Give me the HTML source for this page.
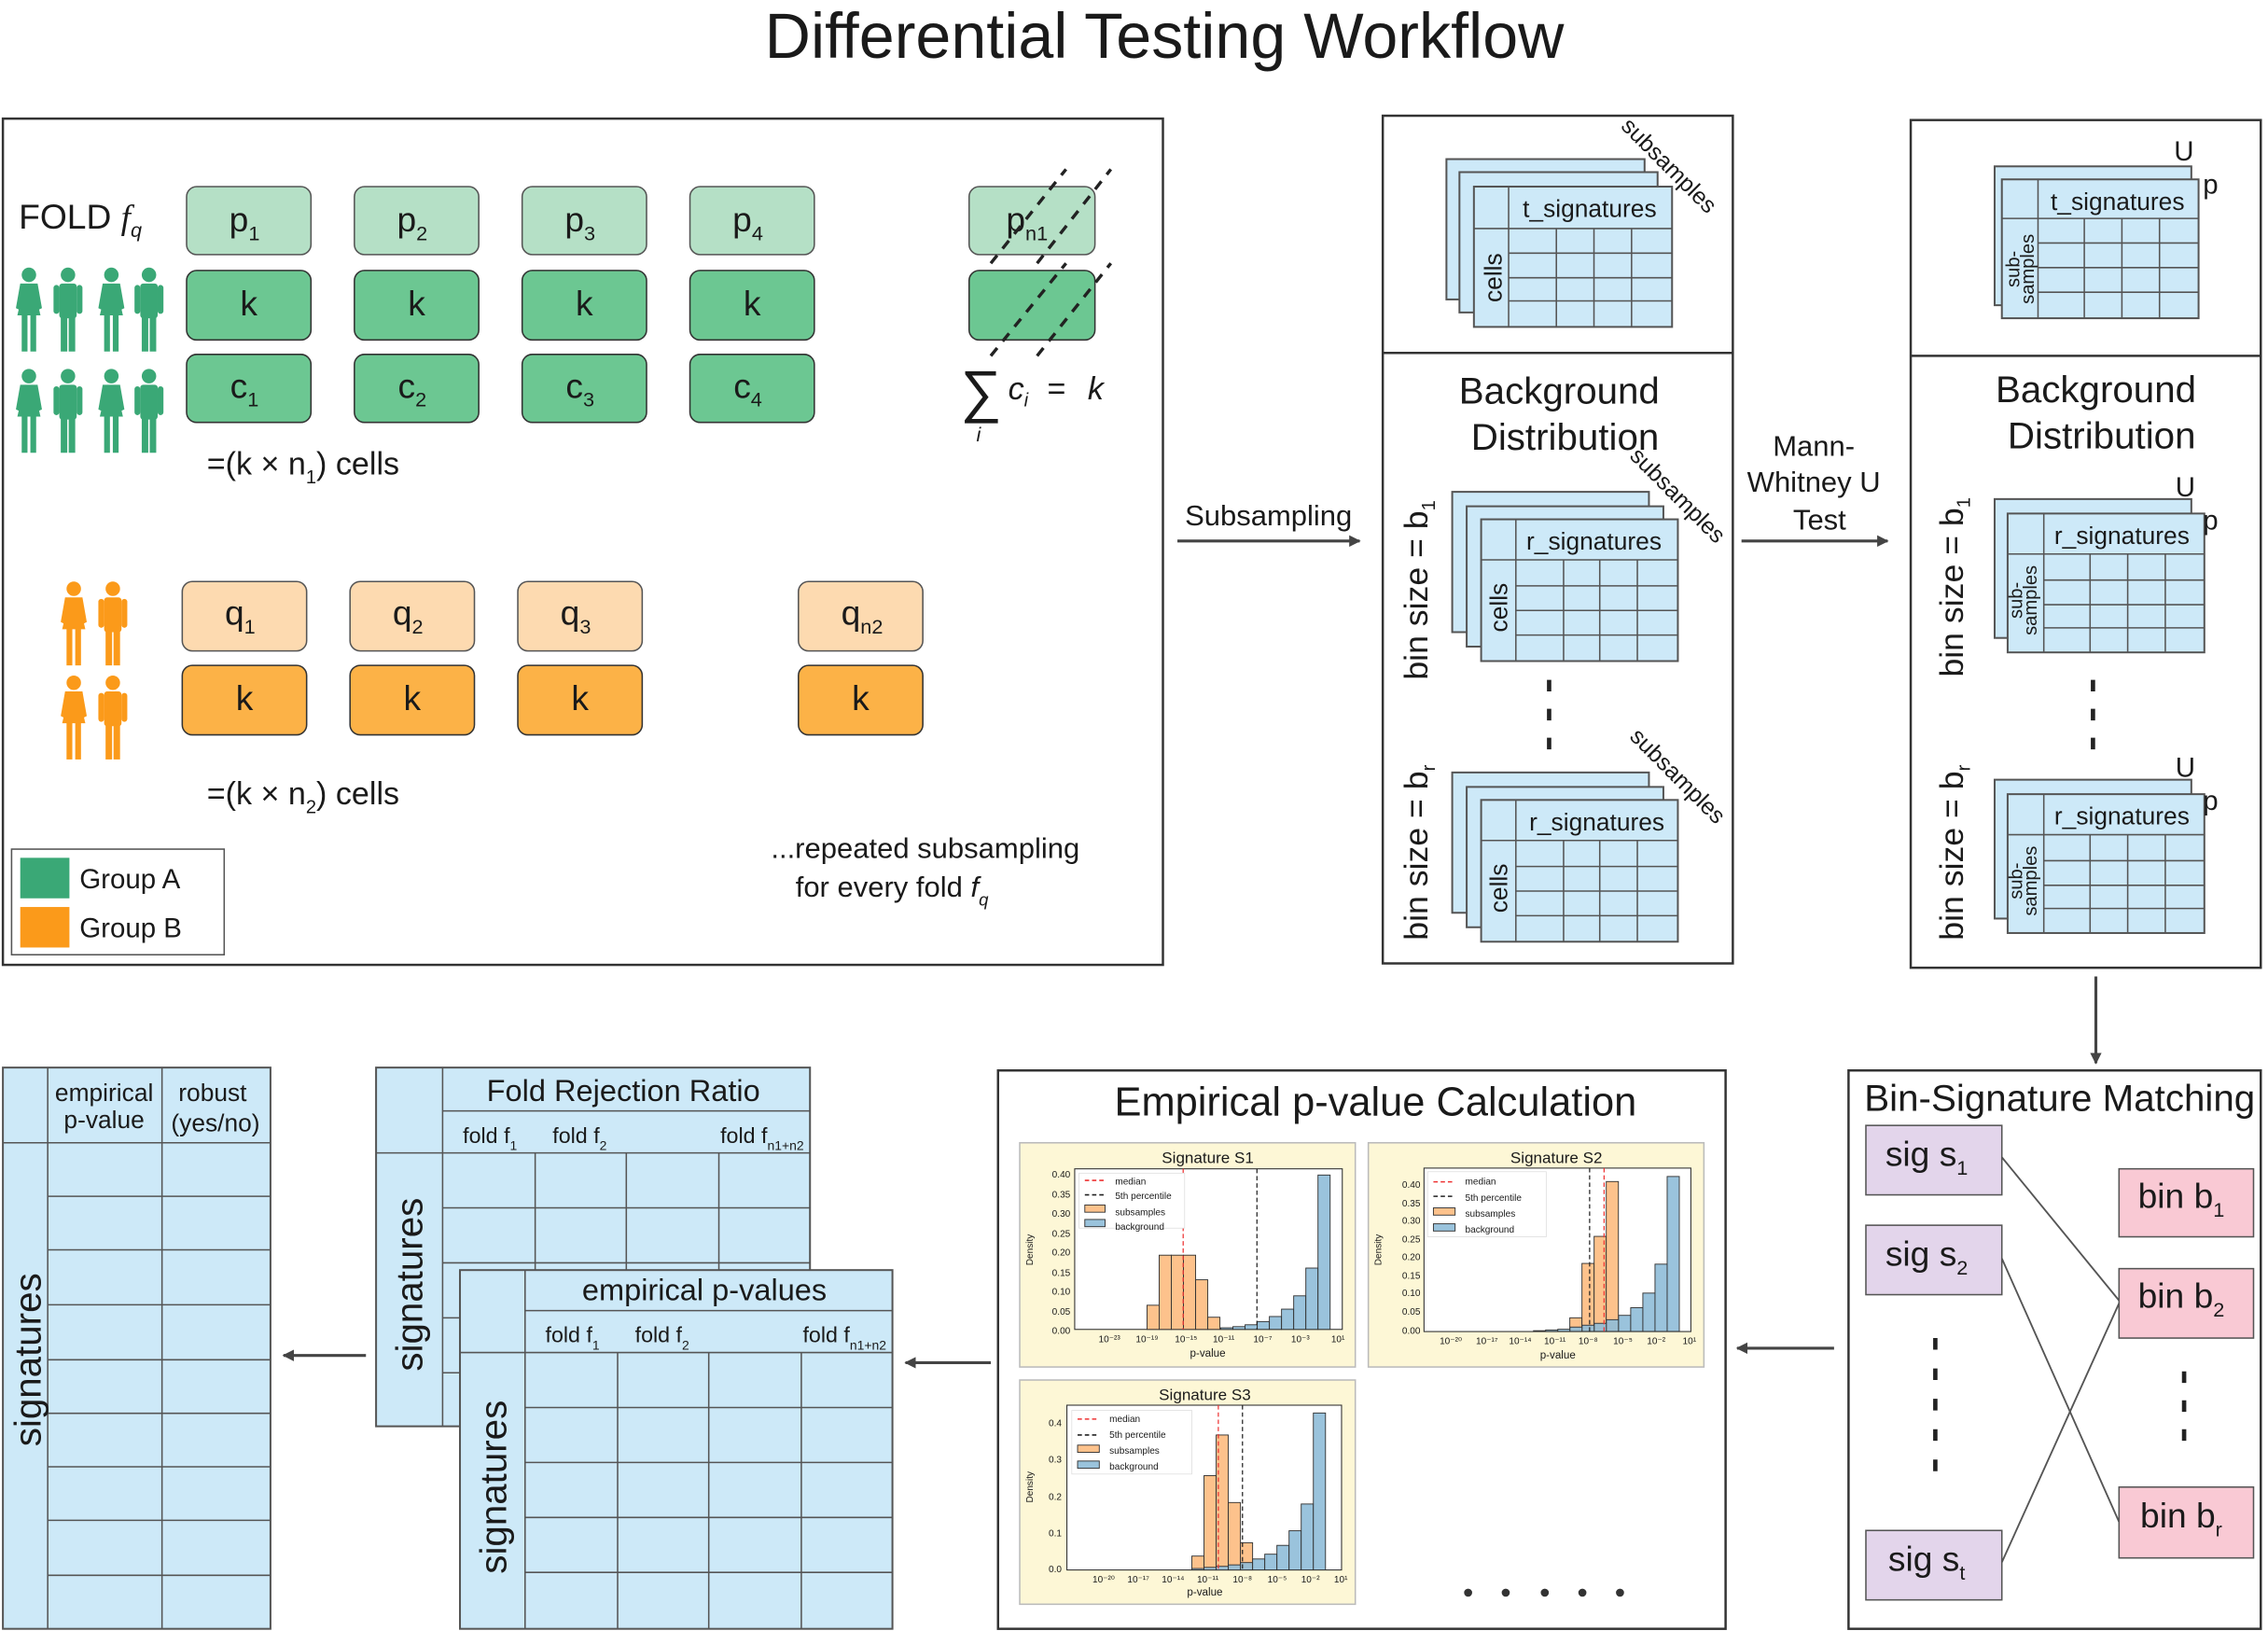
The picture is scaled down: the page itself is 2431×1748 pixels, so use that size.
<!DOCTYPE html>
<html><head><meta charset="utf-8"><style>
html,body{margin:0;padding:0;background:#fff;}
svg{display:block;}
text{font-family:"Liberation Sans",Arial,sans-serif;fill:#1a1a1a;}
.tb{fill:#cde9f8;stroke:#555;stroke-width:1.3;}
.gl{stroke:#555;stroke-width:1;fill:none;}
.pn{fill:none;stroke:#333;stroke-width:1.6;}
.ob{fill:#fdc28c;stroke:#333;stroke-width:.6;}
.bb{fill:#8fbcd8;stroke:#333;stroke-width:.6;fill-opacity:.9;}
.lt{font-size:6.5px;}
.ax{font-size:6.5px;}
</style></head><body>
<svg width="2431" height="1748" viewBox="0 0 1568 1127.5" preserveAspectRatio="none" xmlns="http://www.w3.org/2000/svg">
<defs>
<marker id="ar" viewBox="0 0 10 10" refX="9" refY="5" markerWidth="8" markerHeight="8" orient="auto-start-reverse" markerUnits="userSpaceOnUse"><path d="M0,0 L10,5 L0,10 z" fill="#444"/></marker>
<g id="pw"><circle cx="0" cy="5" r="5"/><path d="M-6,11 H6 L9,28 L7,29 L5,20 L8,33 H-8 L-5,20 L-7,29 L-9,28 Z"/><rect x="-5" y="32" width="4" height="26"/><rect x="1" y="32" width="4" height="26"/></g>
<g id="pm"><circle cx="0" cy="5" r="5"/><rect x="-6" y="11" width="12" height="24" rx="2"/><rect x="-10" y="12" width="4" height="20" rx="2"/><rect x="6" y="12" width="4" height="20" rx="2"/><rect x="-5" y="33" width="4.5" height="25"/><rect x="0.5" y="33" width="4.5" height="25"/></g>
</defs>

<text x="805" y="40" font-size="44" text-anchor="middle">Differential Testing Workflow</text>

<!-- Panel 1 -->
<rect x="2" y="82" width="802" height="585" class="pn"/>
<text x="13" y="158" font-size="24">FOLD <tspan font-style="italic" font-family="Liberation Serif">f</tspan><tspan font-size="14" dy="6" font-style="italic">q</tspan></text>
<g fill="#3aa876"><use href="#pw" x="20" y="185"/><use href="#pm" x="47" y="185"/><use href="#pw" x="77" y="185"/><use href="#pm" x="103" y="185"/>
<use href="#pw" x="20" y="255"/><use href="#pm" x="47" y="255"/><use href="#pw" x="77" y="255"/><use href="#pm" x="103" y="255"/></g>
<g stroke="#555" stroke-width="1">
<rect x="129" y="129" width="86" height="47" rx="7" fill="#b5e0c6"/><rect x="245" y="129" width="86" height="47" rx="7" fill="#b5e0c6"/><rect x="361" y="129" width="86" height="47" rx="7" fill="#b5e0c6"/><rect x="477" y="129" width="86" height="47" rx="7" fill="#b5e0c6"/>
<rect x="129" y="187" width="86" height="48" rx="7" fill="#6cc792" stroke="#333"/><rect x="245" y="187" width="86" height="48" rx="7" fill="#6cc792" stroke="#333"/><rect x="361" y="187" width="86" height="48" rx="7" fill="#6cc792" stroke="#333"/><rect x="477" y="187" width="86" height="48" rx="7" fill="#6cc792" stroke="#333"/>
<rect x="129" y="245" width="86" height="47" rx="7" fill="#6cc792" stroke="#333"/><rect x="245" y="245" width="86" height="47" rx="7" fill="#6cc792" stroke="#333"/><rect x="361" y="245" width="86" height="47" rx="7" fill="#6cc792" stroke="#333"/><rect x="477" y="245" width="86" height="47" rx="7" fill="#6cc792" stroke="#333"/>
<rect x="670" y="129" width="87" height="47" rx="7" fill="#b5e0c6"/>
<rect x="670" y="187" width="87" height="48" rx="7" fill="#6cc792" stroke="#333"/>
</g>
<g font-size="24" text-anchor="middle">
<text x="169" y="160">p<tspan font-size="14" dy="6">1</tspan></text><text x="285" y="160">p<tspan font-size="14" dy="6">2</tspan></text><text x="401" y="160">p<tspan font-size="14" dy="6">3</tspan></text><text x="517" y="160">p<tspan font-size="14" dy="6">4</tspan></text>
<text x="172" y="218">k</text><text x="288" y="218">k</text><text x="404" y="218">k</text><text x="520" y="218">k</text>
<text x="169" y="275">c<tspan font-size="14" dy="6">1</tspan></text><text x="285" y="275">c<tspan font-size="14" dy="6">2</tspan></text><text x="401" y="275">c<tspan font-size="14" dy="6">3</tspan></text><text x="517" y="275">c<tspan font-size="14" dy="6">4</tspan></text>
<text x="710" y="160">p<tspan font-size="14" dy="6">n1</tspan></text>
</g>
<g stroke="#222" stroke-width="2.2" stroke-dasharray="7,6">
<line x1="685" y1="182" x2="737" y2="117"/><line x1="717" y1="182" x2="768" y2="117"/>
<line x1="685" y1="246" x2="737" y2="182"/><line x1="717" y1="246" x2="768" y2="182"/>
</g>
<text x="664" y="284" font-size="40" font-family="Liberation Serif">∑</text>
<text x="697" y="276" font-size="22" font-family="Liberation Serif" font-style="italic">c<tspan font-size="13" dy="5">i</tspan></text>
<text x="724" y="276" font-size="22" font-family="Liberation Serif">=</text>
<text x="752" y="276" font-size="22" font-family="Liberation Serif" font-style="italic">k</text>
<text x="675" y="305" font-size="14" font-family="Liberation Serif" font-style="italic">i</text>
<text x="143" y="328" font-size="22">=(k × n<tspan font-size="13" dy="6">1</tspan><tspan dy="-6">) cells</tspan></text>

<g fill="#fb9a1a"><use href="#pw" x="51" y="402"/><use href="#pm" x="78" y="402"/><use href="#pw" x="51" y="467"/><use href="#pm" x="78" y="467"/></g>
<g stroke="#555" stroke-width="1">
<rect x="126" y="402" width="86" height="48" rx="7" fill="#fddab0"/><rect x="242" y="402" width="86" height="48" rx="7" fill="#fddab0"/><rect x="358" y="402" width="86" height="48" rx="7" fill="#fddab0"/><rect x="552" y="402" width="86" height="48" rx="7" fill="#fddab0"/>
<rect x="126" y="460" width="86" height="48" rx="7" fill="#fcb247" stroke="#333"/><rect x="242" y="460" width="86" height="48" rx="7" fill="#fcb247" stroke="#333"/><rect x="358" y="460" width="86" height="48" rx="7" fill="#fcb247" stroke="#333"/><rect x="552" y="460" width="86" height="48" rx="7" fill="#fcb247" stroke="#333"/>
</g>
<g font-size="24" text-anchor="middle">
<text x="166" y="432">q<tspan font-size="14" dy="6">1</tspan></text><text x="282" y="432">q<tspan font-size="14" dy="6">2</tspan></text><text x="398" y="432">q<tspan font-size="14" dy="6">3</tspan></text><text x="596" y="432">q<tspan font-size="14" dy="6">n2</tspan></text>
<text x="169" y="491">k</text><text x="285" y="491">k</text><text x="401" y="491">k</text><text x="595" y="491">k</text>
</g>
<text x="143" y="556" font-size="22">=(k × n<tspan font-size="13" dy="6">2</tspan><tspan dy="-6">) cells</tspan></text>
<rect x="8" y="587" width="147" height="73" fill="#fff" stroke="#555" stroke-width="1"/>
<rect x="14" y="593" width="34" height="28" fill="#3aa876"/><rect x="14" y="627" width="34" height="28" fill="#fb9a1a"/>
<text x="55" y="614" font-size="19">Group A</text><text x="55" y="648" font-size="19">Group B</text>
<text x="533" y="593" font-size="20">...repeated subsampling</text>
<text x="550" y="620" font-size="20">for every fold <tspan font-style="italic">f</tspan><tspan font-size="12" dy="6" font-style="italic">q</tspan></text>

<!-- Subsampling arrow -->
<text x="877" y="363" font-size="20" text-anchor="middle">Subsampling</text>
<line x1="814" y1="374" x2="940" y2="374" stroke="#444" stroke-width="2" marker-end="url(#ar)"/>

<!-- Panel 2 -->
<rect x="956" y="80" width="242" height="586" class="pn"/>
<line x1="956" y1="244" x2="1198" y2="244" stroke="#333" stroke-width="1.6"/>
<rect x="1000" y="110" width="137" height="97" class="tb"/><rect x="1009" y="119" width="137" height="97" class="tb"/>
<rect x="1019" y="129" width="137" height="97" class="tb"/>
<path class="gl" d="M1019,158H1156M1043,129V226M1076,158V226M1102,158V226M1128,158V226M1043,175H1156M1043,192H1156M1043,208H1156"/>
<text x="1099" y="150" font-size="17" text-anchor="middle">t_signatures</text>
<text transform="translate(1038,192) rotate(-90)" font-size="17" text-anchor="middle">cells</text>
<text transform="translate(1120,88) rotate(45)" font-size="16">subsamples</text>
<text x="1078" y="279" font-size="26" text-anchor="middle">Background</text>
<text x="1082" y="311" font-size="26" text-anchor="middle">Distribution</text>

<rect x="1004" y="340" width="136" height="97" class="tb"/><rect x="1014" y="350" width="136" height="97" class="tb"/>
<rect x="1024" y="359" width="136" height="98" class="tb"/>
<path class="gl" d="M1024,387H1160M1048,359V457M1081,387V457M1106,387V457M1132,387V457M1048,405H1160M1048,422H1160M1048,439H1160"/>
<text x="1102" y="380" font-size="17" text-anchor="middle">r_signatures</text>
<text transform="translate(1042,420) rotate(-90)" font-size="17" text-anchor="middle">cells</text>
<text transform="translate(1126,316) rotate(45)" font-size="16">subsamples</text>
<text transform="translate(987,470) rotate(-90)" font-size="23">bin size = b<tspan font-size="13" dy="5">1</tspan></text>
<line x1="1071" y1="470" x2="1071" y2="522" stroke="#222" stroke-width="3" stroke-dasharray="8,12"/>

<rect x="1004" y="534" width="136" height="97" class="tb"/><rect x="1014" y="544" width="136" height="97" class="tb"/>
<rect x="1024" y="553" width="136" height="98" class="tb"/>
<path class="gl" d="M1024,581H1160M1048,553V651M1081,581V651M1106,581V651M1132,581V651M1048,599H1160M1048,616H1160M1048,633H1160"/>
<text x="1104" y="574" font-size="17" text-anchor="middle">r_signatures</text>
<text transform="translate(1042,614) rotate(-90)" font-size="17" text-anchor="middle">cells</text>
<text transform="translate(1126,510) rotate(45)" font-size="16">subsamples</text>
<text transform="translate(987,650) rotate(-90)" font-size="23">bin size = b<tspan font-size="13" dy="5">r</tspan></text>

<!-- MW arrow -->
<text x="1254" y="315" font-size="20" text-anchor="middle">Mann-</text>
<text x="1254" y="340" font-size="20" text-anchor="middle">Whitney U</text>
<text x="1258" y="366" font-size="20" text-anchor="middle">Test</text>
<line x1="1204" y1="374" x2="1305" y2="374" stroke="#444" stroke-width="2" marker-end="url(#ar)"/>

<!-- Panel 3 -->
<rect x="1321" y="83" width="242" height="586" class="pn"/>
<line x1="1321" y1="246" x2="1563" y2="246" stroke="#333" stroke-width="1.6"/>
<rect x="1379" y="115" width="136" height="96" class="tb"/>
<rect x="1384" y="124" width="136" height="96" class="tb"/>
<path class="gl" d="M1384,151H1520M1409,124V220M1441,151V220M1467,151V220M1493,151V220M1409,168H1520M1409,185H1520M1409,202H1520"/>
<text x="1464" y="145" font-size="17" text-anchor="middle">t_signatures</text>
<text transform="translate(1396,186) rotate(-90)" font-size="13" text-anchor="middle">sub-</text>
<text transform="translate(1406,186) rotate(-90)" font-size="13" text-anchor="middle">samples</text>
<text x="1503" y="111" font-size="19">U</text><text x="1523" y="134" font-size="19">p</text>
<text x="1449" y="278" font-size="26" text-anchor="middle">Background</text>
<text x="1453" y="310" font-size="26" text-anchor="middle">Distribution</text>

<rect x="1379" y="345" width="136" height="96" class="tb"/>
<rect x="1388" y="355" width="136" height="96" class="tb"/>
<path class="gl" d="M1388,383H1524M1413,355V451M1445,383V451M1471,383V451M1497,383V451M1413,401H1524M1413,418H1524M1413,434H1524"/>
<text x="1467" y="376" font-size="17" text-anchor="middle">r_signatures</text>
<text transform="translate(1398,415) rotate(-90)" font-size="13" text-anchor="middle">sub-</text>
<text transform="translate(1408,415) rotate(-90)" font-size="13" text-anchor="middle">samples</text>
<text x="1504" y="343" font-size="19">U</text><text x="1523" y="366" font-size="19">p</text>
<text transform="translate(1357,468) rotate(-90)" font-size="23">bin size = b<tspan font-size="13" dy="5">1</tspan></text>
<line x1="1447" y1="470" x2="1447" y2="522" stroke="#222" stroke-width="3" stroke-dasharray="8,12"/>

<rect x="1379" y="539" width="136" height="96" class="tb"/>
<rect x="1388" y="549" width="136" height="96" class="tb"/>
<path class="gl" d="M1388,577H1524M1413,549V645M1445,577V645M1471,577V645M1497,577V645M1413,595H1524M1413,612H1524M1413,628H1524"/>
<text x="1467" y="570" font-size="17" text-anchor="middle">r_signatures</text>
<text transform="translate(1398,609) rotate(-90)" font-size="13" text-anchor="middle">sub-</text>
<text transform="translate(1408,609) rotate(-90)" font-size="13" text-anchor="middle">samples</text>
<text x="1504" y="537" font-size="19">U</text><text x="1523" y="560" font-size="19">p</text>
<text transform="translate(1357,650) rotate(-90)" font-size="23">bin size = b<tspan font-size="13" dy="5">r</tspan></text>

<line x1="1449" y1="675" x2="1449" y2="735" stroke="#444" stroke-width="2" marker-end="url(#ar)"/>

<!-- Bin-signature matching -->
<rect x="1278" y="740" width="285" height="386" class="pn"/>
<text x="1424" y="768" font-size="26" text-anchor="middle">Bin-Signature Matching</text>
<g stroke="#555" stroke-width="1">
<rect x="1290" y="778" width="94" height="48" fill="#e3d5eb"/><rect x="1290" y="847" width="94" height="48" fill="#e3d5eb"/><rect x="1290" y="1058" width="94" height="48" fill="#e3d5eb"/>
<rect x="1465" y="808" width="93" height="47" fill="#f9c9d4"/><rect x="1465" y="877" width="93" height="48" fill="#f9c9d4"/><rect x="1465" y="1028" width="93" height="49" fill="#f9c9d4"/>
</g>
<g stroke="#555" stroke-width="1.2"><line x1="1384" y1="800" x2="1465" y2="899"/><line x1="1384" y1="870" x2="1465" y2="1052"/><line x1="1384" y1="1080" x2="1465" y2="901"/></g>
<g font-size="24" text-anchor="middle">
<text x="1332" y="806">sig s<tspan font-size="14" dy="6">1</tspan></text><text x="1332" y="875">sig s<tspan font-size="14" dy="6">2</tspan></text><text x="1332" y="1086">sig s<tspan font-size="14" dy="6">t</tspan></text>
<text x="1508" y="835">bin b<tspan font-size="14" dy="6">1</tspan></text><text x="1508" y="904">bin b<tspan font-size="14" dy="6">2</tspan></text><text x="1508" y="1056">bin b<tspan font-size="14" dy="6">r</tspan></text>
</g>
<line x1="1338" y1="925" x2="1338" y2="1022" stroke="#222" stroke-width="3" stroke-dasharray="8,13"/>
<line x1="1510" y1="948" x2="1510" y2="1002" stroke="#222" stroke-width="3" stroke-dasharray="8,12"/>

<line x1="1268" y1="932" x2="1201" y2="932" stroke="#444" stroke-width="2" marker-end="url(#ar)"/>

<!-- Empirical panel -->
<rect x="690" y="740" width="503" height="386" class="pn"/>
<text x="951" y="771" font-size="28" text-anchor="middle">Empirical p-value Calculation</text>

<!-- plot 1 -->
<rect x="705" y="790" width="232" height="155" fill="#fdf7d6" stroke="#bbb" stroke-width="1"/>
<text x="835" y="804" font-size="11" text-anchor="middle">Signature S1</text>
<rect x="743" y="808" width="185" height="111" fill="#fff" stroke="#333" stroke-width=".7"/>
<g class="ob"><rect x="793" y="902.3" width="8.4" height="16.7"/><rect x="801.4" y="867.7" width="8.4" height="51.3"/><rect x="809.8" y="867.7" width="8.4" height="51.3"/><rect x="818.2" y="867.7" width="8.4" height="51.3"/><rect x="826.6" y="884.7" width="8.4" height="34.3"/><rect x="835" y="910.6" width="8.4" height="8.4"/></g>
<g class="bb"><rect x="844" y="917.9" width="8.4" height="1.1"/><rect x="852.4" y="917.1" width="8.4" height="1.9"/><rect x="860.8" y="915.8" width="8.4" height="3.2"/><rect x="869.2" y="913.6" width="8.4" height="5.4"/><rect x="877.6" y="910.1" width="8.4" height="8.9"/><rect x="886" y="905" width="8.4" height="14"/><rect x="894.4" y="895.8" width="8.4" height="23.2"/><rect x="902.8" y="876.6" width="8.4" height="42.4"/><rect x="911.2" y="812.3" width="8.4" height="106.7"/></g>
<line x1="818" y1="808" x2="818" y2="919" stroke="#e33" stroke-width=".8" stroke-dasharray="3,2"/>
<line x1="869" y1="808" x2="869" y2="919" stroke="#222" stroke-width=".8" stroke-dasharray="3,2"/>
<rect x="746" y="811" width="73" height="38" fill="#fff" stroke="#ddd" stroke-width=".5"/>
<line x1="750" y1="816" x2="764" y2="816" stroke="#e33" stroke-dasharray="3,2"/><line x1="750" y1="826" x2="764" y2="826" stroke="#222" stroke-dasharray="3,2"/>
<rect x="750" y="833" width="14" height="5" class="ob"/><rect x="750" y="843" width="14" height="5" class="bb"/>
<text x="771" y="819" class="lt">median</text><text x="771" y="829" class="lt">5th percentile</text><text x="771" y="840" class="lt">subsamples</text><text x="771" y="850" class="lt">background</text>
<g class="ax" text-anchor="end"><text x="740" y="814">0.40</text><text x="740" y="828">0.35</text><text x="740" y="841">0.30</text><text x="740" y="855">0.25</text><text x="740" y="868">0.20</text><text x="740" y="882">0.15</text><text x="740" y="895">0.10</text><text x="740" y="909">0.05</text><text x="740" y="922">0.00</text></g>
<g class="ax" text-anchor="middle"><text x="767" y="928">10⁻²³</text><text x="793" y="928">10⁻¹⁹</text><text x="820" y="928">10⁻¹⁵</text><text x="846" y="928">10⁻¹¹</text><text x="873" y="928">10⁻⁷</text><text x="899" y="928">10⁻³</text><text x="925" y="928">10¹</text><text x="835" y="938" font-size="7.5">p-value</text></g>
<text transform="translate(714,864) rotate(-90)" class="ax" text-anchor="middle">Density</text>

<!-- plot 2 -->
<rect x="946" y="790" width="232" height="155" fill="#fdf7d6" stroke="#bbb" stroke-width="1"/>
<text x="1076" y="804" font-size="11" text-anchor="middle">Signature S2</text>
<rect x="984.5" y="807.5" width="184.5" height="113" fill="#fff" stroke="#333" stroke-width=".7"/>
<g class="ob"><rect x="1085.3" y="911" width="8.4" height="9.4"/><rect x="1093.7" y="873.4" width="8.4" height="47"/><rect x="1102.1" y="854.7" width="8.4" height="65.7"/><rect x="1110.5" y="816.8" width="8.4" height="103.6"/></g>
<g class="bb"><rect x="1060.2" y="919.9" width="8.4" height=".5"/><rect x="1068.6" y="919.4" width="8.4" height="1"/><rect x="1077" y="918.9" width="8.4" height="1.5"/><rect x="1085.4" y="917.4" width="8.4" height="3"/><rect x="1093.8" y="916.1" width="8.4" height="4.3"/><rect x="1102.2" y="914.8" width="8.4" height="5.6"/><rect x="1110.6" y="912.3" width="8.4" height="8.1"/><rect x="1119" y="909.3" width="8.4" height="11.1"/><rect x="1127.4" y="904" width="8.4" height="16.4"/><rect x="1135.8" y="893.9" width="8.4" height="26.5"/><rect x="1144.2" y="873.9" width="8.4" height="46.5"/><rect x="1152.6" y="813.3" width="8.4" height="107.1"/></g>
<line x1="1109" y1="807.5" x2="1109" y2="920.4" stroke="#e33" stroke-width=".8" stroke-dasharray="3,2"/>
<line x1="1099" y1="807.5" x2="1099" y2="920.4" stroke="#222" stroke-width=".8" stroke-dasharray="3,2"/>
<rect x="987" y="810" width="82" height="45" fill="#fff" stroke="#ddd" stroke-width=".5"/>
<line x1="991" y1="817" x2="1006" y2="817" stroke="#e33" stroke-dasharray="3,2"/><line x1="991" y1="827" x2="1006" y2="827" stroke="#222" stroke-dasharray="3,2"/>
<rect x="991" y="835" width="15" height="5" class="ob"/><rect x="991" y="846" width="15" height="5" class="bb"/>
<text x="1013" y="819" class="lt">median</text><text x="1013" y="830" class="lt">5th percentile</text><text x="1013" y="841" class="lt">subsamples</text><text x="1013" y="852" class="lt">background</text>
<g class="ax" text-anchor="end"><text x="982" y="821">0.40</text><text x="982" y="834">0.35</text><text x="982" y="846">0.30</text><text x="982" y="859">0.25</text><text x="982" y="871">0.20</text><text x="982" y="884">0.15</text><text x="982" y="896">0.10</text><text x="982" y="909">0.05</text><text x="982" y="922">0.00</text></g>
<g class="ax" text-anchor="middle"><text x="1003" y="929">10⁻²⁰</text><text x="1028" y="929">10⁻¹⁷</text><text x="1051" y="929">10⁻¹⁴</text><text x="1075" y="929">10⁻¹¹</text><text x="1098" y="929">10⁻⁸</text><text x="1122" y="929">10⁻⁵</text><text x="1145" y="929">10⁻²</text><text x="1168" y="929">10¹</text><text x="1077" y="939" font-size="7.5">p-value</text></g>
<text transform="translate(955,864) rotate(-90)" class="ax" text-anchor="middle">Density</text>

<!-- plot 3 -->
<rect x="705" y="954" width="232" height="155" fill="#fdf7d6" stroke="#bbb" stroke-width="1"/>
<text x="833" y="968" font-size="11" text-anchor="middle">Signature S3</text>
<rect x="737.6" y="971.4" width="189.9" height="113.9" fill="#fff" stroke="#333" stroke-width=".7"/>
<g class="ob"><rect x="824" y="1075.7" width="8.4" height="9.6"/><rect x="832.4" y="1020.1" width="8.4" height="65.2"/><rect x="840.8" y="992" width="8.4" height="93.3"/><rect x="849.2" y="1038.7" width="8.4" height="46.6"/><rect x="857.6" y="1066.5" width="8.4" height="18.8"/></g>
<g class="bb"><rect x="824" y="1084.3" width="8.4" height="1"/><rect x="832.4" y="1083.5" width="8.4" height="1.8"/><rect x="840.8" y="1082.8" width="8.4" height="2.5"/><rect x="849.2" y="1081.8" width="8.4" height="3.5"/><rect x="857.6" y="1080.2" width="8.4" height="5.1"/><rect x="866" y="1077.7" width="8.4" height="7.6"/><rect x="874.4" y="1074.4" width="8.4" height="10.9"/><rect x="882.8" y="1068.3" width="8.4" height="17"/><rect x="891.2" y="1058.2" width="8.4" height="27.1"/><rect x="899.6" y="1039.7" width="8.4" height="45.6"/><rect x="908" y="976.8" width="8.4" height="108.5"/></g>
<line x1="842.3" y1="971.4" x2="842.3" y2="1085.3" stroke="#e33" stroke-width=".8" stroke-dasharray="3,2"/>
<line x1="859" y1="971.4" x2="859" y2="1085.3" stroke="#222" stroke-width=".8" stroke-dasharray="3,2"/>
<rect x="741" y="975" width="83" height="44" fill="#fff" stroke="#ddd" stroke-width=".5"/>
<line x1="745" y1="981" x2="760" y2="981" stroke="#e33" stroke-dasharray="3,2"/><line x1="745" y1="992" x2="760" y2="992" stroke="#222" stroke-dasharray="3,2"/>
<rect x="745" y="999" width="15" height="5" class="ob"/><rect x="745" y="1010" width="15" height="5" class="bb"/>
<text x="767" y="983" class="lt">median</text><text x="767" y="994" class="lt">5th percentile</text><text x="767" y="1005" class="lt">subsamples</text><text x="767" y="1016" class="lt">background</text>
<g class="ax" text-anchor="end"><text x="734" y="986">0.4</text><text x="734" y="1011">0.3</text><text x="734" y="1037">0.2</text><text x="734" y="1062">0.1</text><text x="734" y="1087">0.0</text></g>
<g class="ax" text-anchor="middle"><text x="763" y="1094">10⁻²⁰</text><text x="787" y="1094">10⁻¹⁷</text><text x="811" y="1094">10⁻¹⁴</text><text x="835" y="1094">10⁻¹¹</text><text x="859" y="1094">10⁻⁸</text><text x="883" y="1094">10⁻⁵</text><text x="906" y="1094">10⁻²</text><text x="927" y="1094">10¹</text><text x="833" y="1103" font-size="7.5">p-value</text></g>
<text transform="translate(714,1028) rotate(-90)" class="ax" text-anchor="middle">Density</text>

<g fill="#333"><circle cx="1015" cy="1101" r="2.8"/><circle cx="1041" cy="1101" r="2.8"/><circle cx="1068" cy="1101" r="2.8"/><circle cx="1094" cy="1101" r="2.8"/><circle cx="1120" cy="1101" r="2.8"/></g>

<line x1="685" y1="942" x2="626" y2="942" stroke="#444" stroke-width="2" marker-end="url(#ar)"/>

<!-- Fold rejection table (back) -->
<rect x="260" y="738" width="300" height="248" class="tb"/>
<path class="gl" d="M306,768H560M260,797H560M306,738V986M370,797V986M433,797V986M497,797V986M306,835H560M306,873H560M306,911H560M306,949H560"/>
<text x="431" y="761" font-size="21" text-anchor="middle">Fold Rejection Ratio</text>
<text x="320" y="790" font-size="15">fold f<tspan font-size="9" dy="5">1</tspan></text>
<text x="382" y="790" font-size="15">fold f<tspan font-size="9" dy="5">2</tspan></text>
<text x="498" y="790" font-size="15">fold f<tspan font-size="9" dy="5">n1+n2</tspan></text>
<text transform="translate(292,888) rotate(-90)" font-size="26" text-anchor="middle">signatures</text>

<!-- empirical p-values table (front) -->
<rect x="318" y="878" width="299" height="248" class="tb"/>
<path class="gl" d="M363,906H617M318,935H617M363,878V1126M427,935V1126M490,935V1126M554,935V1126M363,973H617M363,1011H617M363,1049H617M363,1087H617"/>
<text x="487" y="899" font-size="21" text-anchor="middle">empirical p-values</text>
<text x="377" y="928" font-size="15">fold f<tspan font-size="9" dy="5">1</tspan></text>
<text x="439" y="928" font-size="15">fold f<tspan font-size="9" dy="5">2</tspan></text>
<text x="555" y="928" font-size="15">fold f<tspan font-size="9" dy="5">n1+n2</tspan></text>
<text transform="translate(350,1028) rotate(-90)" font-size="26" text-anchor="middle">signatures</text>

<line x1="253" y1="937" x2="196" y2="937" stroke="#444" stroke-width="2" marker-end="url(#ar)"/>

<!-- Final table -->
<rect x="2" y="738" width="185" height="388" class="tb"/>
<path class="gl" d="M2,790H187M33,738V1126M112,738V1126M33,827H187M33,864H187M33,902H187M33,940H187M33,977H187M33,1014H187M33,1051H187M33,1089H187"/>
<text x="72" y="761" font-size="17" text-anchor="middle">empirical</text>
<text x="72" y="780" font-size="17" text-anchor="middle">p-value</text>
<text x="147" y="761" font-size="17" text-anchor="middle">robust</text>
<text x="149" y="782" font-size="17" text-anchor="middle">(yes/no)</text>
<text transform="translate(28,940) rotate(-90)" font-size="26" text-anchor="middle">signatures</text>
</svg>
</body></html>
